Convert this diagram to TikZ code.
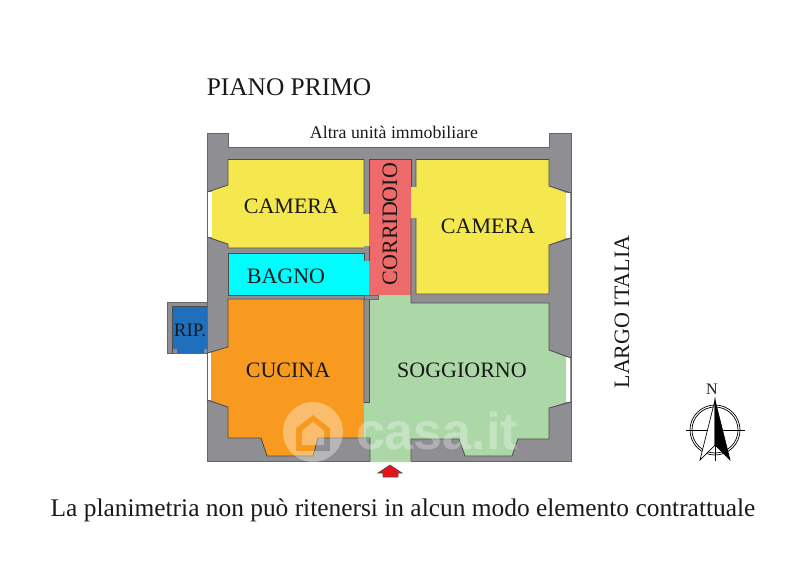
\documentclass[tikz,border=0pt]{standalone}
\usepackage{fontspec}
\setmainfont{Liberation Serif}
\newfontfamily\markfont{Liberation Sans}
\newcommand{\fsize}[1]{\fontsize{#1}{#1}\selectfont}
\tikzset{
  wall/.style={draw=black!60,line width=0.7pt,fill=wallgrey},
  edge/.style={draw=black!70,line width=0.8pt},
  open/.style={fill=white},
  label/.style={inner sep=0pt,text=black!90,font=\fsize{22}},
  needle/.style={draw=black,line width=0.7pt}
}
\definecolor{wallgrey}{HTML}{8F8F93}
\definecolor{campyellow}{HTML}{F4E84E}
\definecolor{bagnocyan}{HTML}{00FCFC}
\definecolor{cucorange}{HTML}{F79A1F}
\definecolor{corrcoral}{HTML}{EF6B6B}
\definecolor{soggreen}{HTML}{ACD8A8}
\definecolor{ripblue}{HTML}{1F6FBD}
\definecolor{arrowred}{HTML}{E8121A}
\begin{document}
\begin{tikzpicture}[x=1pt,y=-1pt]
  \useasboundingbox (0,0) rectangle (800,566);
  % walls
  \draw [wall] (207,133) -- (228,133) -- (228,147) -- (549,147) -- (549,133) -- (571,133) -- (571,461) -- (207,461) -- cycle;
  \draw [wall] (167,302) rectangle (207,353);
  % windows
  \fill [open] (208,192) rectangle (213,237);
  \fill [open] (208,353) rectangle (213,400);
  \fill [open] (565,193) rectangle (570,238);
  \fill [open] (565,357) rectangle (570,402);
  % rooms
  \fill [ripblue] (172,349) -- (172,306) -- (207,306) -- (207,349) -- (204,349) -- (204,353) -- (177,353) -- (177,349) -- cycle;
  \fill [campyellow] (228,159.5) -- (364,159.5) -- (364,214) -- (369,214) -- (369,246) -- (364,246) -- (364,248) -- (228,248) -- (228,244) -- (212,238) -- (212,191) -- (228,185) -- cycle;
  \fill [bagnocyan] (228,253) -- (364,253) -- (364,261) -- (369,261) -- (369,295) -- (228,295) -- cycle;
  \fill [cucorange] (228,299) -- (364,299) -- (364,438) -- (318,438) -- (313,456) -- (267,456) -- (261,438) -- (228,438) -- (228,407) -- (211,400) -- (211,353) -- (228,347) -- cycle;
  \fill [soggreen] (369,295) -- (411,295) -- (411,303) -- (549,303) -- (549,350) -- (566,357) -- (566,402) -- (549,408) -- (549,439) -- (518,439) -- (512,456) -- (465,456) -- (459,439) -- (411,439) -- (411,462) -- (370,462) -- (370,439) -- (364,439) -- (364,402) -- (369,402) -- cycle;
  \fill [campyellow] (416,159.5) -- (549,159.5) -- (549,186) -- (566,193) -- (566,238) -- (549,245) -- (549,294) -- (416,294) -- (416,218) -- (411,218) -- (411,187) -- (416,187) -- cycle;
  \fill [corrcoral] (369,159.5) -- (411,159.5) -- (411,295) -- (369,295) -- cycle;
  % room edges, none across the doors
  \draw [edge] (172,353) -- (172,306) -- (207,306);
  \draw [edge] (364,214) -- (364,159.5) -- (228,159.5) -- (228,185) -- (207,192);
  \draw [edge] (207,237) -- (228,244) -- (228,248) -- (364,248);
  \draw [edge] (364,261) -- (364,253) -- (228,253) -- (228,295) -- (369,295);
  \draw [edge] (369,214) -- (369,159.5) -- (411,159.5) -- (411,187);
  \draw [edge] (369,246) -- (369,261);
  \draw [edge] (416,187) -- (416,159.5) -- (549,159.5) -- (549,186) -- (571,193);
  \draw [edge] (571,238) -- (549,245) -- (549,294) -- (416,294) -- (416,218);
  \draw [edge] (411,218) -- (411,303) -- (549,303) -- (549,350) -- (571,358);
  \draw [edge] (571,402) -- (549,408) -- (549,439) -- (518,439) -- (512,456) -- (465,456) -- (459,439) -- (411,439) -- (411,461);
  \draw [edge] (364,402) -- (364,299) -- (228,299) -- (228,347) -- (207,353);
  \draw [edge] (207,400) -- (228,407) -- (228,438) -- (261,438) -- (267,456) -- (313,456) -- (318,438) -- (370,438) -- (370,461);
  \draw [edge] (369,295) -- (369,402) -- (364,402);
  \draw [wall] (364,295) rectangle (378,299);
  % entrance
  \draw [draw=black!70,fill=arrowred,line width=0.6pt] (390,465) -- (402,473) -- (398,473) -- (398,477) -- (383,477) -- (383,473) -- (378,473) -- cycle;
  % compass
  \draw [needle] (715,430) circle (25);
  \draw [needle] (715,430) circle (23);
  \draw [needle] (686,430) -- (745,430);
  \draw [needle] (715,445) -- (715,461);
  \draw [needle,fill=white] (715,400) -- (700,460) -- (715,445) -- cycle;
  \draw [needle,fill=black] (715,400) -- (730,460) -- (715,445) -- cycle;
  % watermark
  \fill [white,opacity=0.35,even odd rule] (313,432) circle (30) (313,415) -- (330,428) -- (330,451) -- (296,451) -- (296,428) -- cycle (313,422) -- (324,431) -- (324,445) -- (302,445) -- (302,431) -- cycle;
  \node [text=white,opacity=0.3,inner sep=0pt,font=\fsize{52}\markfont\bfseries] (casa) at (437,431) {casa.it};
  % labels
  \node [label,font=\fsize{25.4}] (piano) at (289,87) {PIANO PRIMO};
  \node [label,font=\fsize{17.8}] (altra) at (394,132) {Altra unità immobiliare};
  \node [label] (camsx) at (291,206) {CAMERA};
  \node [label] (camdx) at (488,226) {CAMERA};
  \node [label] (bagno) at (286,276) {BAGNO};
  \node [label,rotate=90] (corridoio) at (390,224) {CORRIDOIO};
  \node [label,font=\fsize{19}] (rip) at (190,330) {RIP.};
  \node [label] (cucina) at (288,370) {CUCINA};
  \node [label] (soggiorno) at (462,370) {SOGGIORNO};
  \node [label,rotate=90] (largo) at (622,312) {LARGO ITALIA};
  \node [label,font=\fsize{16}] (nord) at (712,389) {N};
  \node [label,font=\fsize{25.4}] (nota) at (403,510) {La planimetria non può ritenersi in alcun modo elemento contrattuale};
\end{tikzpicture}
\end{document}
